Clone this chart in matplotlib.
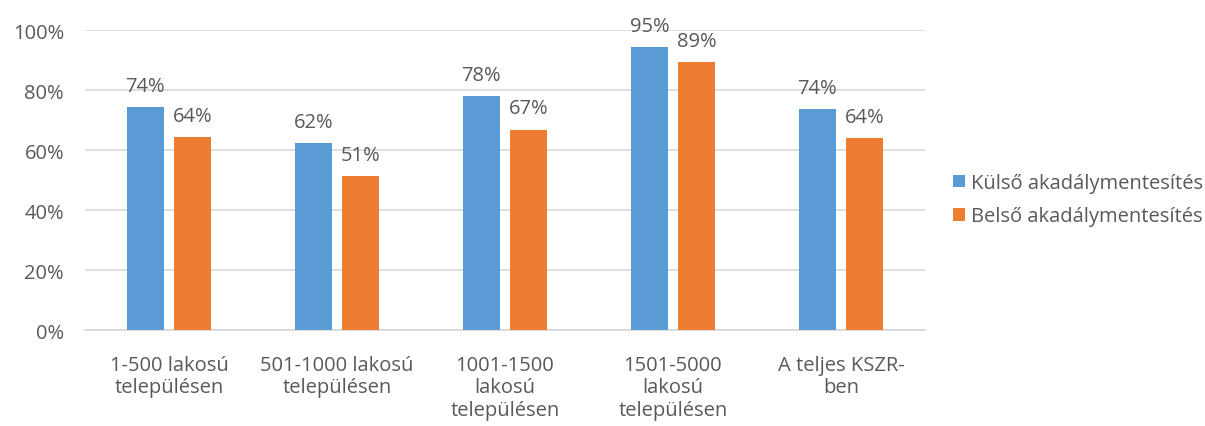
import numpy as np
import matplotlib
matplotlib.use('Agg')
import matplotlib.pyplot as plt
from matplotlib.ticker import PercentFormatter

plt.rcParams['font.family'] = ['Open Sans', 'DejaVu Sans']

categories = ['1-500 lakosú\ntelepülésen', '501-1000 lakosú\ntelepülésen',
              '1001-1500\nlakosú\ntelepülésen', '1501-5000\nlakosú\ntelepülésen',
              'A teljes KSZR-\nben']
kulso = [74.4, 62.4, 77.9, 94.4, 73.7]
belso = [64.4, 51.4, 66.8, 89.4, 63.9]
kulso_labels = ['74%', '62%', '78%', '95%', '74%']
belso_labels = ['64%', '51%', '67%', '89%', '64%']
series_names = ['Külső akadálymentesítés', 'Belső akadálymentesítés']

blue = '#5B9BD5'
orange = '#ED7D31'
grey_text = '#595959'
grid_col = '#D9D9D9'
fs = 14.5

fig = plt.figure(figsize=(12.05, 4.27), dpi=100)
ax = fig.add_axes([0.0705, 0.2248, 0.697, 0.7026])

x = np.arange(len(categories))
w = 0.22
off = 0.14
b1 = ax.bar(x - off, kulso, w, color=blue, label=series_names[0], zorder=3)
b2 = ax.bar(x + off, belso, w, color=orange, label=series_names[1], zorder=3)

for bars, labs in ((b1, kulso_labels), (b2, belso_labels)):
    for rect, lab in zip(bars, labs):
        ax.annotate(lab, (rect.get_x() + rect.get_width() / 2, rect.get_height()),
                    xytext=(0, 8), textcoords='offset points', ha='center', va='bottom',
                    fontsize=fs, color=grey_text)

ax.set_xlim(-0.5, len(categories) - 0.5)
ax.set_ylim(0, 100)
ax.set_yticks(np.arange(0, 101, 20))
ax.yaxis.set_major_formatter(PercentFormatter(decimals=0))
ax.yaxis.grid(True, color=grid_col, linewidth=1.2, zorder=0)
ax.set_axisbelow(True)
for s in ('top', 'right', 'left'):
    ax.spines[s].set_visible(False)
ax.spines['bottom'].set_color(grid_col)
ax.spines['bottom'].set_linewidth(1.2)
ax.tick_params(axis='both', length=0, labelsize=fs, labelcolor=grey_text)
ax.tick_params(axis='y', pad=15)
ax.tick_params(axis='x', pad=18)
ax.set_xticks(x)
ax.set_xticklabels(categories, linespacing=1.15)

leg = fig.legend(loc='center left', bbox_to_anchor=(0.776, 0.53), frameon=False,
                 fontsize=fs, handlelength=0.6, handleheight=0.6, handletextpad=0.3,
                 labelspacing=0.65)
for t in leg.get_texts():
    t.set_color(grey_text)

fig.savefig('out.png', dpi=100)
